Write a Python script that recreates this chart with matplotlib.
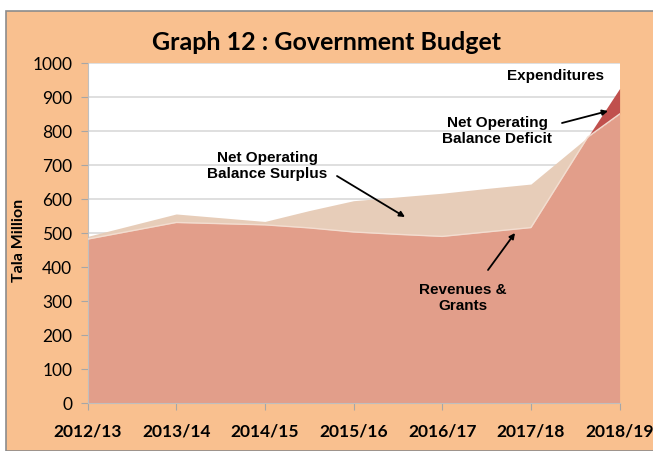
import numpy as np
import matplotlib
matplotlib.use("Agg")
import matplotlib.pyplot as plt
from matplotlib.patches import Rectangle, FancyArrowPatch

# fiscal years on the x axis
years = ["2012/13", "2013/14", "2014/15", "2015/16", "2016/17", "2017/18", "2018/19"]

# positions (in fiscal-year steps) where the lines bend
xpos = [0, 1, 2, 2.5, 3, 3.5, 4, 4.5, 5, 5.64, 6]
revenue = [482, 531, 524, 515, 503, 496, 490, 503, 516, 782, 850]
expenditure = [490, 556, 534, 566, 595, 606, 617, 631, 644, 782, 925]
deficit_start = 5.64

bg = "#F9C08F"
salmon = "#E29E8A"
tan = "#E7CDB9"
red = "#C0504D"

fig = plt.figure(figsize=(6.53, 4.52), dpi=100, facecolor="white")
fig.patches.append(Rectangle((6 / 653, 0), 1, 1 - 12 / 452, transform=fig.transFigure,
                             facecolor=bg, edgecolor="#8C8C8C", lw=1.2, zorder=-10))

ax = fig.add_axes([87.5 / 653, 1 - 404 / 452, (619.6 - 87.5) / 653, (404 - 64) / 452])
ax.set_facecolor("white")

x = np.array(xpos)
rev = np.array(revenue)
exp_ = np.array(expenditure)

for v in range(100, 1001, 100):
    ax.axhline(v, color="#D9D9D9", lw=1.2, zorder=0)

ax.fill_between(x, 0, exp_, where=x <= deficit_start + 1e-9, color=tan, lw=0, zorder=1)
ax.fill_between(x, rev, exp_, where=x >= deficit_start - 1e-9, color=red, lw=0, zorder=1)
ax.fill_between(x, 0, rev, color=salmon, lw=0, zorder=2)
ax.plot(x, rev, color="#F3DDD0", lw=1.0, zorder=3)

ax.set_xlim(0, 6)
ax.set_ylim(0, 1000)
ax.set_xticks(range(len(years)))
ax.set_xticklabels(years, fontfamily="Lato", fontweight="bold", fontsize=12.5)
ax.set_yticks(range(0, 1001, 100))
ax.set_yticklabels([str(v) for v in range(0, 1001, 100)], fontfamily="Lato", fontsize=12.5)
ax.tick_params(axis="x", length=5, color="#A6A6A6", pad=9)
ax.tick_params(axis="y", length=5, color="#A6A6A6", pad=6)
for s in ["top", "right"]:
    ax.spines[s].set_visible(False)
for s in ["left", "bottom"]:
    ax.spines[s].set_color("#BFBFBF")
ax.set_ylabel("Tala Million", fontfamily="Lato", fontweight="bold", fontsize=11.5)
ax.yaxis.set_label_coords(-0.129, 0.482)
ax.yaxis.label.set_va("center")

fig.text(0.5, 1 - 42 / 452, "Graph 12 : Government Budget", ha="center", va="center",
         fontfamily="Lato", fontweight="bold", fontsize=18)

afont = dict(fontfamily="Liberation Sans", fontweight="bold", fontsize=11, ha="center", va="center")
arrow = dict(arrowstyle="-|>", color="black", lw=1.3, mutation_scale=8, shrinkA=0, shrinkB=0)

def px(xp, yp):
    return (xp / 653, 1 - yp / 452)

fig.text(*px(556, 76), "Expenditures", **afont)
fig.text(*px(497, 131), "Net Operating\nBalance Deficit", linespacing=1.2, **afont)
fig.text(*px(267, 166), "Net Operating\nBalance Surplus", linespacing=1.2, **afont)
fig.text(*px(463, 298), "Revenues &\nGrants", linespacing=1.2, **afont)

fig.add_artist(FancyArrowPatch(px(562, 124), px(608, 112), transform=fig.transFigure, **arrow))
fig.add_artist(FancyArrowPatch(px(337, 177), px(405, 218), transform=fig.transFigure, **arrow))
fig.add_artist(FancyArrowPatch(px(488, 271), px(515, 234), transform=fig.transFigure, **arrow))

fig.savefig("out.png", dpi=100, facecolor=fig.get_facecolor())
